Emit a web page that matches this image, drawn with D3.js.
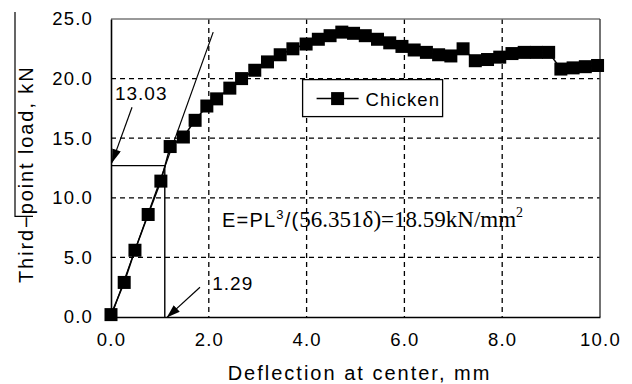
<!DOCTYPE html>
<html>
<head>
<meta charset="utf-8">
<script src="https://cdn.jsdelivr.net/npm/d3@7"></script>
<style>
  body { margin: 0; background: #fff; }
  svg { display: block; font-family: "Liberation Sans", Arial, sans-serif; }
</style>
</head>
<body>
<div id="chart"></div>
<script>
// load-deflection curve
const deflection = [0, 0.27, 0.49, 0.76, 1.02, 1.21, 1.48, 1.72, 1.96, 2.16, 2.43, 2.67, 2.94, 3.2,
  3.46, 3.72, 3.99, 4.24, 4.48, 4.72, 4.96, 5.2, 5.45, 5.7, 5.95, 6.2, 6.45, 6.7, 6.95, 7.2,
  7.45, 7.7, 7.95, 8.2, 8.45, 8.7, 8.95, 9.2, 9.45, 9.7, 9.95];
const load = [0.2, 2.9, 5.6, 8.6, 11.4, 14.3, 15.1, 16.5, 17.7, 18.3, 19.2, 20.0, 20.7, 21.4,
  22.0, 22.5, 22.9, 23.3, 23.6, 23.9, 23.8, 23.6, 23.3, 23.0, 22.7, 22.4, 22.2, 22.0, 21.9, 22.5,
  21.5, 21.6, 21.8, 22.1, 22.2, 22.2, 22.2, 20.8, 20.9, 21.0, 21.1];
const seriesName = "Chicken";
const xTicks = [0, 2, 4, 6, 8, 10];
const yTicks = [0, 5, 10, 15, 20, 25];

// construction lines and notes
const tangent = [[0, 0], [2.09, 23.9]];
const yieldPt = [1.1, 12.7];
const loadNote = {text: "13.03", at: [0.08, 18.2], arrow: [[0.43, 17.6], [0.02, 12.95]]};
const deflNote = {text: "1.29", at: [2.07, 2.27], arrow: [[1.82, 2.5], [1.14, -0.05]]};
const formulaAt = [2.27, 7.55];

const cfg = {
  width: 632, height: 384,
  margin: {left: 111, right: 32, top: 19, bottom: 67}
};
const mark = 13; // marker side, px

const svg = d3.select("#chart")
  .append("svg")
  .attr("width", cfg.width)
  .attr("height", cfg.height);

const x = d3.scaleLinear([0, 10], [cfg.margin.left, cfg.width - cfg.margin.right]);
const y = d3.scaleLinear([0, 25], [cfg.height - cfg.margin.bottom, cfg.margin.top]);

// arrow head
svg.append("defs").append("marker")
  .attr("id", "head")
  .attr("viewBox", "0 0 12 8")
  .attr("refX", 12).attr("refY", 4)
  .attr("markerWidth", 14).attr("markerHeight", 9)
  .attr("markerUnits", "userSpaceOnUse")
  .attr("orient", "auto")
  .append("path")
  .attr("d", "M0,0 L12,4 L0,8 Z")
  .attr("fill", "#000");

// dashed grid
const grid = svg.append("g").attr("class", "grid")
  .attr("stroke", "#000").attr("stroke-width", 1.3).attr("stroke-dasharray", "5,4");
grid.selectAll(".gx")
  .data(xTicks.slice(1, -1))
  .join("line")
  .attr("x1", d => x(d)).attr("x2", d => x(d))
  .attr("y1", y(25)).attr("y2", y(0));
grid.selectAll(".gy")
  .data(yTicks.slice(1, -1))
  .join("line")
  .attr("x1", x(0)).attr("x2", x(10))
  .attr("y1", d => y(d)).attr("y2", d => y(d));

// frame: top and right are lighter
svg.append("line")
  .attr("x1", x(0)).attr("x2", x(10)).attr("y1", y(25)).attr("y2", y(25))
  .attr("stroke", "#777").attr("stroke-width", 1.3);
svg.append("line")
  .attr("x1", x(10)).attr("x2", x(10)).attr("y1", y(25)).attr("y2", y(0))
  .attr("stroke", "#444").attr("stroke-width", 1.5);

// axes
const xAxis = d3.axisBottom(x).tickValues(xTicks).tickFormat(d3.format(".1f"))
  .tickSize(0).tickPadding(16);
const yAxis = d3.axisLeft(y).tickValues(yTicks).tickFormat(d3.format(".1f"))
  .tickSize(0).tickPadding(18);

svg.append("g")
  .attr("transform", `translate(0, ${y(0)})`)
  .call(xAxis)
  .call(g => g.select(".domain").attr("stroke", "#000").attr("stroke-width", 1.6));
svg.append("g")
  .attr("transform", `translate(${x(0)}, 0)`)
  .call(yAxis)
  .call(g => g.select(".domain").attr("stroke", "#000").attr("stroke-width", 1.6));

svg.selectAll(".tick text")
  .attr("font-family", "Liberation Sans, Arial, sans-serif")
  .attr("font-size", 18.5)
  .attr("letter-spacing", 1.2)
  .attr("fill", "#000");

// construction lines
svg.append("line")
  .attr("x1", x(tangent[0][0])).attr("y1", y(tangent[0][1]))
  .attr("x2", x(tangent[1][0])).attr("y2", y(tangent[1][1]))
  .attr("stroke", "#000").attr("stroke-width", 1.2);
svg.append("path")
  .attr("d", `M${x(0)},${y(yieldPt[1])} H${x(yieldPt[0])} V${y(0)}`)
  .attr("fill", "none").attr("stroke", "#000").attr("stroke-width", 1.4);

// series
const pts = deflection.map((d, i) => [d, load[i]]);
svg.append("path")
  .datum(pts)
  .attr("d", d3.line().x(d => x(d[0])).y(d => y(d[1])))
  .attr("fill", "none").attr("stroke", "#000").attr("stroke-width", 1.5);
svg.append("g")
  .selectAll("rect")
  .data(pts)
  .join("rect")
  .attr("x", d => x(d[0]) - mark / 2).attr("y", d => y(d[1]) - mark / 2)
  .attr("width", mark).attr("height", mark)
  .attr("fill", "#000");

// notes with arrows
[loadNote, deflNote].forEach(n => {
  svg.append("line")
    .attr("x1", x(n.arrow[0][0])).attr("y1", y(n.arrow[0][1]))
    .attr("x2", x(n.arrow[1][0])).attr("y2", y(n.arrow[1][1]))
    .attr("stroke", "#000").attr("stroke-width", 1.2)
    .attr("marker-end", "url(#head)");
  svg.append("text")
    .attr("x", x(n.at[0])).attr("y", y(n.at[1]))
    .attr("font-size", 19).attr("letter-spacing", 1)
    .text(n.text);
});

// formula
const f = svg.append("text")
  .attr("x", x(formulaAt[0])).attr("y", y(formulaAt[1]))
  .attr("font-size", 20).attr("letter-spacing", 1.2);
f.append("tspan").text("E=PL");
f.append("tspan").attr("font-size", 13).attr("dy", -8).text("3");
f.append("tspan").attr("dy", 8).text("/(");
f.append("tspan").attr("font-family", "Liberation Serif, Times New Roman, serif")
  .attr("font-size", 23).attr("letter-spacing", 0).text("56.351δ)=18.59kN/mm");
f.append("tspan").attr("font-family", "Liberation Serif, Times New Roman, serif")
  .attr("font-size", 14).attr("dy", -10).text("2");

// legend
const lg = svg.append("g").attr("transform", `translate(${x(4) - 4}, ${y(20) + 1})`);
lg.append("rect")
  .attr("width", 140).attr("height", 37)
  .attr("fill", "#fff").attr("stroke", "#000").attr("stroke-width", 1.3);
lg.append("line")
  .attr("x1", 14).attr("x2", 56).attr("y1", 19).attr("y2", 19)
  .attr("stroke", "#000").attr("stroke-width", 1.5);
lg.append("rect")
  .attr("x", 35 - mark / 2).attr("y", 19 - mark / 2).attr("width", mark).attr("height", mark)
  .attr("fill", "#000");
lg.append("text")
  .attr("x", 63).attr("y", 26)
  .attr("font-size", 18.5).attr("letter-spacing", 1.1)
  .text(seriesName);

// axis titles
svg.append("text")
  .attr("x", (x(0) + x(10)) / 2 + 4).attr("y", 380)
  .attr("text-anchor", "middle")
  .attr("font-size", 20).attr("letter-spacing", 2)
  .text("Deflection at center, mm");

const yt = svg.append("g").attr("transform", "translate(33, 283) rotate(-90)");
const ytxt = yt.append("text")
  .attr("x", 0).attr("y", 0)
  .attr("font-size", 20).attr("letter-spacing", 1.9)
  .text("Third−point load, kN");
// odd overline seen in the original label
const cut = ytxt.node().getSubStringLength(0, 6);
yt.append("path")
  .attr("d", `M${cut - 2},0 V-18 H271`)
  .attr("fill", "none").attr("stroke", "#000").attr("stroke-width", 1.2);
</script>
</body>
</html>
